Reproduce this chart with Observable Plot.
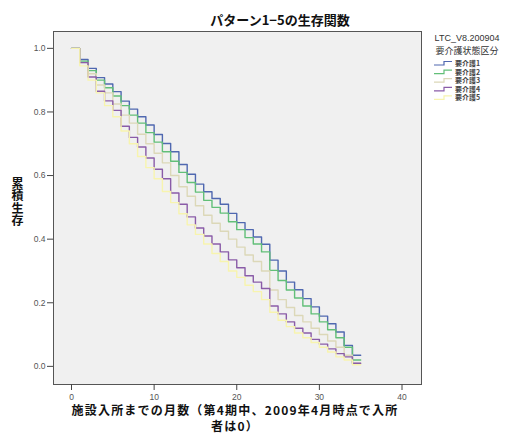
<!DOCTYPE html>
<html><head><meta charset="utf-8">
<script src="https://cdn.jsdelivr.net/npm/d3@7"></script>
<script src="https://cdn.jsdelivr.net/npm/@observablehq/plot@0.6"></script>
<style>
body{margin:0;background:#fff;}
#wrap{position:relative;width:510px;height:436px;font-family:"Noto Sans CJK JP","Noto Sans",sans-serif;}
.t{position:absolute;white-space:nowrap;color:#111;line-height:1;}
</style></head><body><div id="wrap"></div>
<script>
// survival values at months 0..34 (step holds until next month); curves end at month 35
const categories = ["要介護1","要介護2","要介護3","要介護4","要介護5"];
const colors = ["#5068b0","#62bf78","#dcd8b8","#8a5ca8","#f7f4ae"];
const care1 = [1.0,0.965,0.937,0.908,0.888,0.864,0.834,0.809,0.785,0.759,0.729,0.701,0.675,0.635,0.604,0.573,0.549,0.528,0.510,0.481,0.452,0.430,0.407,0.384,0.334,0.300,0.265,0.241,0.213,0.187,0.158,0.134,0.108,0.066,0.035];
const care2 = [1.0,0.960,0.930,0.900,0.876,0.850,0.820,0.790,0.765,0.735,0.705,0.675,0.645,0.610,0.578,0.548,0.522,0.500,0.482,0.455,0.430,0.405,0.385,0.360,0.302,0.270,0.240,0.215,0.190,0.165,0.140,0.115,0.090,0.060,0.020];
const care3 = [1.0,0.955,0.920,0.885,0.860,0.825,0.790,0.765,0.730,0.700,0.670,0.640,0.600,0.565,0.535,0.505,0.475,0.450,0.425,0.400,0.375,0.350,0.330,0.300,0.240,0.210,0.185,0.160,0.140,0.120,0.100,0.080,0.060,0.035,0.010];
const care4 = [1.0,0.955,0.910,0.865,0.835,0.805,0.755,0.720,0.690,0.655,0.620,0.590,0.545,0.510,0.470,0.435,0.410,0.385,0.360,0.335,0.310,0.285,0.265,0.245,0.190,0.165,0.140,0.120,0.105,0.085,0.070,0.055,0.040,0.030,0.010];
const care5 = [1.0,0.945,0.900,0.860,0.820,0.785,0.740,0.700,0.660,0.625,0.590,0.550,0.515,0.480,0.445,0.415,0.385,0.355,0.330,0.300,0.280,0.255,0.235,0.210,0.170,0.145,0.125,0.105,0.090,0.075,0.060,0.045,0.030,0.020,0.005];
const endMonth = 35;
const yTicks = [0,0.2,0.4,0.6,0.8,1.0];
const xTicks = [0,10,20,30,40];
const title = "パターン1−5の生存関数";
const xLabel1 = "施設入所までの月数（第4期中、2009年4月時点で入所";
const xLabel2 = "者は0）";
const yLabel = "累積生存";
const legendTitle1 = "LTC_V8.200904";
const legendTitle2 = "要介護状態区分";

const allSeries = [care1,care2,care3,care4,care5];
const rows = [];
allSeries.forEach((vals,i)=>{
  vals.forEach((v,m)=>rows.push({cat:categories[i],month:m,surv:v}));
  rows.push({cat:categories[i],month:endMonth,surv:vals[vals.length-1]});
});

const tickFont = "Liberation Sans, Arial, sans-serif";
const plot = Plot.plot({
  width:510, height:436,
  marginLeft:53, marginRight:89, marginTop:31, marginBottom:52,
  style:{background:"transparent", fontFamily:tickFont, fontSize:"8.5px", color:"#444"},
  x:{domain:[-2.18,42.36]},
  y:{domain:[-0.057,1.053]},
  color:{domain:categories, range:colors},
  marks:[
    Plot.frame({fill:"#f0f0f0", stroke:"none"}),
    Plot.line(rows,{x:"month",y:"surv",z:"cat",stroke:"cat",curve:"step-after",strokeWidth:1.4}),
    Plot.frame({stroke:"#555", strokeWidth:1}),
    Plot.axisY({ticks:yTicks, tickFormat:d3.format(".1f"), tickSize:6, tickPadding:2, label:null, fill:"#555", stroke:"#444"}),
    Plot.axisX({ticks:xTicks, tickFormat:d3.format("d"), tickSize:6, tickPadding:3, label:null, fill:"#555", stroke:"#444"})
  ]
});
const wrap = document.getElementById("wrap");
plot.style.position="absolute"; plot.style.left="0"; plot.style.top="0";
wrap.appendChild(plot);

function addText(txt, css){
  const d=document.createElement("div"); d.className="t"; d.textContent=txt;
  Object.assign(d.style, css); wrap.appendChild(d); return d;
}
addText(title,{left:"0",width:"560px",textAlign:"center",top:"13px",fontSize:"13px",fontWeight:"bold"});
addText(xLabel1,{left:"35px",width:"400px",textAlign:"center",top:"404px",fontSize:"12px",fontWeight:"bold",letterSpacing:"1.2px"});
addText(xLabel2,{left:"35px",width:"400px",textAlign:"center",top:"420px",fontSize:"12px",fontWeight:"bold",letterSpacing:"1.2px"});
addText(yLabel,{left:"11px",top:"177px",fontSize:"12px",fontWeight:"bold",writingMode:"vertical-rl",letterSpacing:"0.5px"});
addText(legendTitle1,{left:"422px",width:"90px",textAlign:"center",top:"34px",fontSize:"9px",fontFamily:tickFont,color:"#333"});
addText(legendTitle2,{left:"422px",width:"90px",textAlign:"center",top:"46px",fontSize:"9px",color:"#333"});

// legend
const lg = d3.select(wrap).append("svg").attr("width",90).attr("height",60)
  .style("position","absolute").style("left","422px").style("top","58px");
categories.forEach((c,i)=>{
  const y = 3 + i*8.6;
  const g = lg.append("g").attr("transform",`translate(0,${y})`);
  g.append("path").attr("d","M12,4 H22 V0.5 H30").attr("fill","none").attr("stroke",colors[i]).attr("stroke-width",1.2);
  g.append("text").attr("x",33).attr("y",2.5).attr("dy","0.35em").attr("font-size","7px").attr("font-weight","bold")
   .attr("font-family","Noto Sans CJK JP").attr("fill","#444").text(c);
});
</script></body></html>
